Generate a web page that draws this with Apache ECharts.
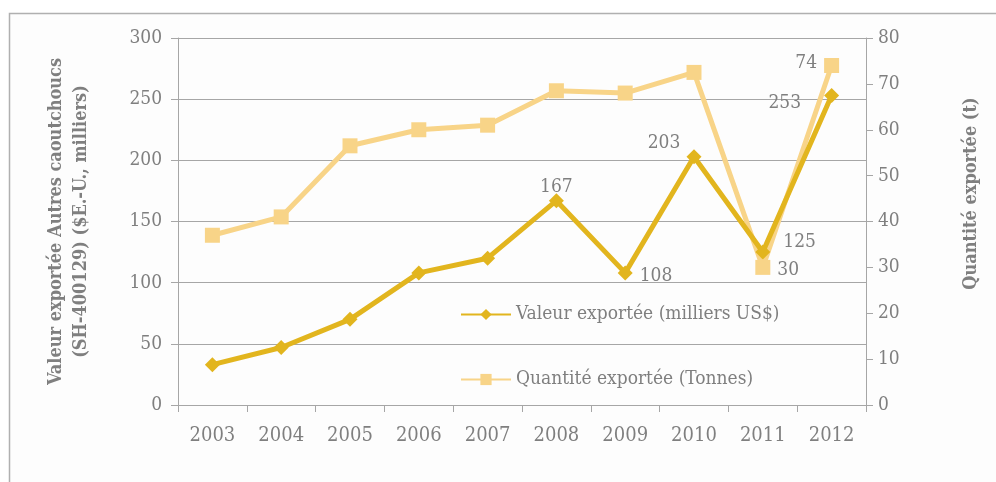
<!DOCTYPE html>
<html>
<head>
<meta charset="utf-8">
<script src="https://cdn.jsdelivr.net/npm/echarts@6/dist/echarts.min.js"></script>
<style>
  html, body { margin: 0; padding: 0; background: #ffffff; }
  #chart { width: 996px; height: 482px; }
</style>
</head>
<body>
<div id="chart"></div>
<script>
// Years on the category axis
const years = ['2003', '2004', '2005', '2006', '2007', '2008', '2009', '2010', '2011', '2012'];
// Export value, thousands of US$ (left axis)
const valeur = [33, 47, 70, 108, 120, 167, 108, 203, 125, 253];
// Exported quantity, tonnes (right axis)
const quantite = [37, 41, 56.5, 60, 61, 68.5, 68, 72.5, 30, 74];

const gold = '#E2B51E';
const lightGold = '#F8D488';
const grey = '#7f7f7f';
const fontFam = '"DejaVu Serif Condensed", "DejaVu Serif", serif';
const fs = 19;

// Which points carry a value label, and where it sits
const valeurLabels = {
  5: { position: 'top', offset: [0, 8] },
  6: { position: 'right', offset: [2, 3] },
  7: { position: 'top', offset: [-30, 8] },
  8: { position: 'right', offset: [8, -10] },
  9: { position: 'left', offset: [-18, 8] }
};
const quantiteLabels = {
  8: { position: 'right', offset: [2, 3] },
  9: { position: 'left', offset: [-2, -2] }
};

function withLabels(values, labels) {
  return values.map((v, i) => {
    const l = labels[i];
    if (!l) return { value: v };
    return {
      value: v,
      label: {
        show: true,
        position: l.position,
        offset: l.offset,
        color: grey,
        fontFamily: fontFam,
        fontSize: fs
      }
    };
  });
}

const chart = echarts.init(document.getElementById('chart'));
chart.setOption({
  backgroundColor: '#ffffff',
  animation: false,
  textStyle: { fontFamily: fontFam, color: grey },
  graphic: [{
    type: 'rect',
    shape: { x: 9.5, y: 13.5, width: 1000, height: 500 },
    style: { fill: '#fdfdfd', stroke: '#b0b0b0', lineWidth: 1.5 },
    z: -10,
    silent: true
  }],
  grid: { left: 178, right: 130, top: 38, bottom: 77 },
  legend: {
    orient: 'vertical',
    left: 455,
    top: 300,
    itemGap: 46,
    itemWidth: 50,
    itemHeight: 14,
    textStyle: { color: grey, fontFamily: fontFam, fontSize: fs },
    data: ['Valeur exportée (milliers US$)', 'Quantité exportée (Tonnes)']
  },
  xAxis: {
    type: 'category',
    data: years,
    boundaryGap: true,
    axisLine: { lineStyle: { color: '#a6a6a6', width: 1 } },
    axisTick: { show: true, length: 7, lineStyle: { color: '#a6a6a6' } },
    axisLabel: { color: grey, fontFamily: fontFam, fontSize: 20, margin: 21 }
  },
  yAxis: [{
    type: 'value',
    min: 0, max: 300, interval: 50,
    name: 'Valeur exportée Autres caoutchoucs\n(SH-400129) ($E.-U., milliers)',
    nameLocation: 'middle',
    nameGap: 84,
    nameTextStyle: { color: grey, fontFamily: fontFam, fontSize: 18, fontWeight: 'bold', lineHeight: 25 },
    axisLine: { show: true, lineStyle: { color: '#a6a6a6' } },
    axisTick: { show: true, length: 7, lineStyle: { color: '#a6a6a6' } },
    axisLabel: { color: grey, fontFamily: fontFam, fontSize: fs, margin: 16 },
    splitLine: { lineStyle: { color: '#a6a6a6', width: 1 } }
  }, {
    type: 'value',
    min: 0, max: 80, interval: 10,
    position: 'right',
    name: 'Quantité exportée (t)',
    nameLocation: 'middle',
    nameGap: 96,
    nameRotate: 90,
    nameTextStyle: { color: grey, fontFamily: fontFam, fontSize: 18, fontWeight: 'bold', padding: [0, 0, 0, 56] },
    axisLine: { show: true, lineStyle: { color: '#a6a6a6' } },
    axisTick: { show: true, length: 7, lineStyle: { color: '#a6a6a6' } },
    axisLabel: { color: grey, fontFamily: fontFam, fontSize: fs, margin: 12 },
    splitLine: { show: false }
  }],
  series: [{
    name: 'Quantité exportée (Tonnes)',
    type: 'line',
    yAxisIndex: 1,
    data: withLabels(quantite, quantiteLabels),
    symbol: 'rect',
    symbolSize: 15,
    lineStyle: { color: lightGold, width: 5 },
    itemStyle: { color: lightGold },
    z: 2
  }, {
    name: 'Valeur exportée (milliers US$)',
    type: 'line',
    yAxisIndex: 0,
    data: withLabels(valeur, valeurLabels),
    symbol: 'diamond',
    symbolSize: 15,
    lineStyle: { color: gold, width: 5 },
    itemStyle: { color: gold },
    z: 3
  }]
});
</script>
</body>
</html>
